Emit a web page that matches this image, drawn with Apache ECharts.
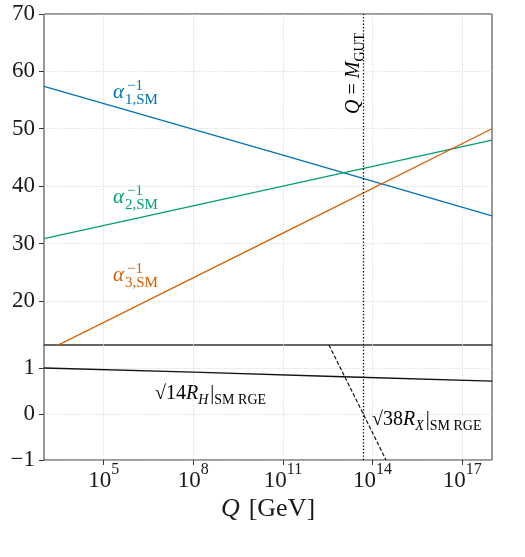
<!DOCTYPE html>
<html>
<head>
<meta charset="utf-8">
<script src="https://cdn.jsdelivr.net/npm/echarts@6/dist/echarts.min.js"></script>
<style>
  html, body { margin: 0; background: #fff; }
  #chart { width: 525px; height: 557px; }
</style>
</head>
<body>
<div id="chart"></div>
<script>
// x is log10(Q / GeV)
const logQ = [3, 11, 18];
const alpha1 = [57.4, 45.4, 34.8];
const alpha2 = [30.85, 40.0, 48.0];
const alpha3 = [11.05, 31.8, 50.0];
const rhLogQ = [3, 8, 13, 18];
const rh = [1.0, 0.91, 0.81, 0.715];
const rxLogQ = [12.54, 13.69, 14.45];
const rx = [1.5, 0, -1];
const mGut = 13.68;
const xTicks = [5, 8, 11, 14, 17];
const yTicksTop = [20, 30, 40, 50, 60, 70];
const yTicksBottom = [-1, 0, 1];

const SERIF = '"Liberation Serif", "DejaVu Serif", serif';
const INK = '#1a1a1a';
const BLUE = '#0173b2', GREEN = '#029e73', ORANGE = '#d55e00';

const chart = echarts.init(document.getElementById('chart'));

function pairs(xs, ys) {
  return xs.map((x, i) => [x, ys[i]]);
}

const splitLine = { show: true, lineStyle: { color: '#cccccc', width: 0.8, type: [1, 1.5] } };
const tickStyle = { show: true, length: 5, inside: false, lineStyle: { color: '#333', width: 1 } };
const noLine = { show: false, onZero: false };
const gutLine = {
  silent: true, symbol: ['none', 'none'], label: { show: false },
  lineStyle: { color: '#000', width: 1.3, type: [1.3, 2] },
  data: [{ xAxis: mGut }]
};

// plain text placed by its baseline
function txt(text, x, baseline, size, color, italic) {
  return {
    type: 'text',
    style: {
      text: text, x: x, y: baseline - 0.34 * size,
      font: (italic ? 'italic ' : '') + size + 'px ' + SERIF,
      fill: color, align: 'left', verticalAlign: 'middle'
    }
  };
}

function alphaLabel(i, color, x, base) {
  return [
    txt('α', x, base, 21, color, true),
    txt('\u22121', x + 14, base - 9, 15, color, false),
    txt(i + ',SM', x + 12, base + 5, 15, color, false)
  ];
}

const annRich = {
  n: { fontFamily: SERIF, fontSize: 20, color: INK, verticalAlign: 'bottom', padding: [0, 0, 3, 0] },
  i: { fontFamily: SERIF, fontSize: 20, fontStyle: 'italic', color: INK, verticalAlign: 'bottom', padding: [0, 0, 3, 0] },
  s: { fontFamily: SERIF, fontSize: 14, color: INK, verticalAlign: 'bottom' },
  si: { fontFamily: SERIF, fontSize: 14, fontStyle: 'italic', color: INK, verticalAlign: 'bottom', padding: [0, 2, 0, 0] }
};
const gutRich = {
  n: { fontFamily: SERIF, fontSize: 20, color: INK, verticalAlign: 'bottom', padding: [0, 0, 3, 0] },
  i: { fontFamily: SERIF, fontSize: 20, fontStyle: 'italic', color: INK, verticalAlign: 'bottom', padding: [0, 0, 3, 0] },
  s: { fontFamily: SERIF, fontSize: 14, color: INK, verticalAlign: 'bottom' }
};

const option = {
  animation: false,
  grid: [
    { left: 44, right: 33, top: 14, height: 331, show: true, borderColor: '#333', borderWidth: 1 },
    { left: 44, right: 33, top: 345, height: 115, show: true, borderColor: '#333', borderWidth: 1 }
  ],
  xAxis: [
    {
      gridIndex: 0, type: 'value', min: 3, max: 18,
      axisLine: noLine,
      axisTick: { show: false, customValues: xTicks },
      axisLabel: { show: false, customValues: xTicks },
      splitLine: splitLine
    },
    {
      gridIndex: 1, type: 'value', min: 3, max: 18,
      axisLine: noLine,
      axisTick: Object.assign({ customValues: xTicks }, tickStyle),
      axisLabel: {
        customValues: xTicks, margin: 2,
        formatter: v => '{b|10}{s|' + v + '}',
        rich: {
          b: { fontFamily: SERIF, fontSize: 23, color: INK, verticalAlign: 'bottom', padding: [7, 0, 0, 0] },
          s: { fontFamily: SERIF, fontSize: 16, color: INK, verticalAlign: 'top' }
        }
      },
      splitLine: splitLine,
      name: '{i|Q}{n|[GeV]}', nameLocation: 'middle', nameGap: 36,
      nameTextStyle: {
        rich: {
          i: { fontFamily: SERIF, fontSize: 26, fontStyle: 'italic', color: INK, padding: [0, 9, 0, 0] },
          n: { fontFamily: SERIF, fontSize: 26, color: INK }
        }
      }
    }
  ],
  yAxis: [
    {
      gridIndex: 0, type: 'value', min: 12.3, max: 70,
      axisLine: noLine,
      axisTick: Object.assign({ customValues: yTicksTop }, tickStyle),
      axisLabel: { customValues: yTicksTop, margin: 9, fontFamily: SERIF, fontSize: 23, color: INK },
      splitLine: splitLine
    },
    {
      gridIndex: 1, type: 'value', min: -1, max: 1.5,
      axisLine: noLine,
      axisTick: Object.assign({ customValues: yTicksBottom }, tickStyle),
      axisLabel: {
        customValues: yTicksBottom, margin: 9, fontFamily: SERIF, fontSize: 23, color: INK,
        formatter: v => v < 0 ? '\u2212' + (-v) : String(v)
      },
      splitLine: splitLine
    }
  ],
  series: [
    {
      type: 'line', xAxisIndex: 0, yAxisIndex: 0, data: pairs(logQ, alpha1),
      symbol: 'none', lineStyle: { color: BLUE, width: 1.3 }, markLine: gutLine
    },
    {
      type: 'line', xAxisIndex: 0, yAxisIndex: 0, data: pairs(logQ, alpha2),
      symbol: 'none', lineStyle: { color: GREEN, width: 1.3 }
    },
    {
      type: 'line', xAxisIndex: 0, yAxisIndex: 0, data: pairs(logQ, alpha3),
      symbol: 'none', lineStyle: { color: ORANGE, width: 1.3 }
    },
    {
      type: 'line', xAxisIndex: 1, yAxisIndex: 1, data: pairs(rhLogQ, rh),
      symbol: 'none', lineStyle: { color: '#111', width: 1.3 }, markLine: gutLine
    },
    {
      type: 'line', xAxisIndex: 1, yAxisIndex: 1, data: pairs(rxLogQ, rx),
      symbol: 'none', lineStyle: { color: '#111', width: 1.2, type: [4, 2] }
    }
  ],
  graphic: [].concat(
    alphaLabel(1, BLUE, 113, 100),
    alphaLabel(2, GREEN, 113, 205),
    alphaLabel(3, ORANGE, 113, 283),
    [
      {
        type: 'text',
        style: {
          text: '{n|√14}{i|R}{si|H}{n||}{s|SM RGE}', rich: annRich,
          x: 155, y: 407, align: 'left', verticalAlign: 'bottom'
        }
      },
      {
        type: 'text',
        style: {
          text: '{n|√38}{i|R}{si|X}{n||}{s|SM RGE}', rich: annRich,
          x: 372, y: 433, align: 'left', verticalAlign: 'bottom'
        }
      },
      {
        type: 'text', x: 367, y: 114, rotation: Math.PI / 2,
        style: {
          text: '{i|Q}{n| = }{i|M}{s|GUT}', rich: gutRich,
          x: 0, y: 0, align: 'left', verticalAlign: 'bottom'
        }
      }
    ]
  )
};

chart.setOption(option);
</script>
</body>
</html>
